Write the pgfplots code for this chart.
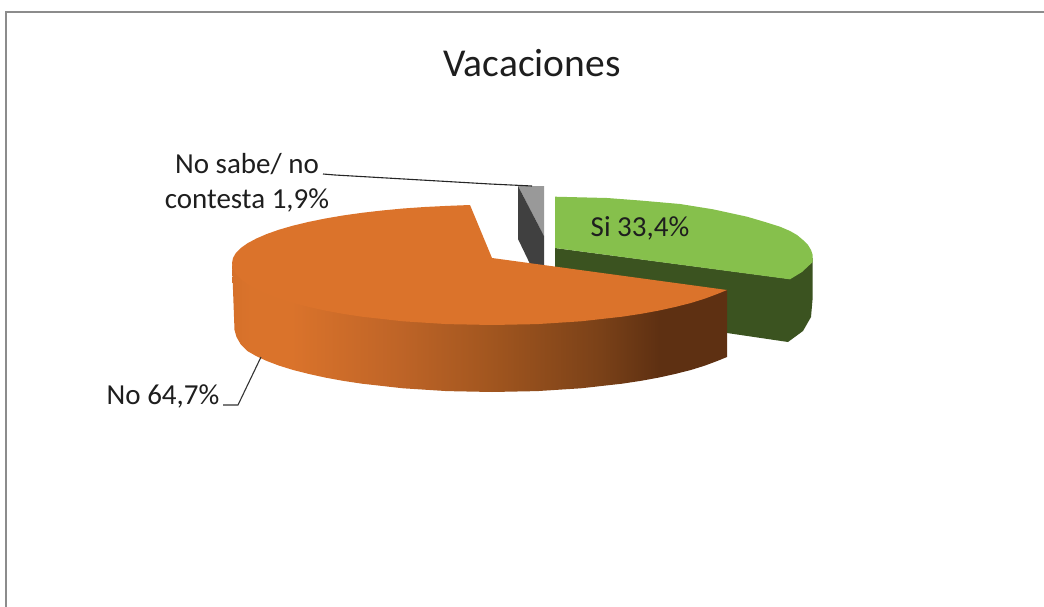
\documentclass[border=0pt]{standalone}
\usepackage{fontspec}
\setmainfont{Carlito}
\usepackage{pgfplots}
\pgfplotsset{compat=1.18}
\definecolor{oa}{HTML}{D5702A}
\definecolor{ob}{HTML}{DA732B}
\definecolor{oc}{HTML}{BE6427}
\definecolor{od}{HTML}{A2561F}
\definecolor{oe}{HTML}{7A4118}
\definecolor{of}{HTML}{5E3012}
\definecolor{otop}{HTML}{DB732B}
\definecolor{gtop}{HTML}{86C04C}
\definecolor{gside}{HTML}{3B5320}
\definecolor{txt}{HTML}{1E1E1E}
\pgfdeclarehorizontalshading{orangeside}{100bp}{color(0bp)=(oa); color(25bp)=(oa); color(27bp)=(ob); color(31bp)=(ob); color(42bp)=(oc); color(51bp)=(od); color(62.2bp)=(oe); color(68.2bp)=(of); color(75bp)=(of); color(100bp)=(of)}
\begin{document}
\begin{tikzpicture}
\path[use as bounding box] (0,0) rectangle (1044pt,607pt);
\begin{axis}[hide axis, scale only axis, width=1044pt, height=607pt, at={(0,0)}, anchor=south west,
  xmin=0, xmax=1044, ymin=0, ymax=607, y dir=reverse, clip=true]
% frame
\addplot[draw=black!45, line width=1.3pt] coordinates {(6,607) (6,12) (1044,12)};
% grey slice
\addplot[fill=black!40, draw=none] coordinates {(518,186) (544,186) (544,236)} -- cycle;
\addplot[fill=black!75, draw=none] coordinates {(518,186) (544,236) (544,268) (531,266) (518,239)} -- cycle;
% green slice
\addplot[fill=gside, draw=none] coordinates {(555,248) (790,279) (812.5,258) (812.5,300) (811,317) (803,331) (788,342) (727,333) (600,320) (555,300)} -- cycle;
\addplot[fill=gtop, draw=none] coordinates {(555,196.7) (607,198) (640,200.5) (680,204) (713,209.3) (747,216.7) (765,222) (780,226.7) (790,231) (797,235) (803,240) (808,245) (811,250) (812.7,255) (812.7,262) (802,272) (790,279.3) (555,248)} -- cycle;
% orange slice side
\addplot[shade, shading=orangeside, draw=none] coordinates {(232,263) (233,266.4) (235.9,271.8) (240.8,277) (247.7,282.2) (256.4,287.2) (266.8,292) (279,296.6) (292.8,300.9) (308.2,304.8) (324.9,308.5) (342.8,311.8) (362,314.7) (403.1,319.3) (446.8,322.1) (492,323) (537.2,322.1) (580.9,319.3) (622,314.7) (641.2,311.8) (659.1,308.5) (675.8,304.8) (691.2,300.9) (704.9,296.6) (717.2,293) (727,290)
 (727,357) (717.2,361) (704.9,365.6) (691.2,369.9) (675.8,373.8) (659.1,377.5) (641.2,380.8) (622,383.7) (580.9,388.3) (537.2,391.1) (492,392) (446.8,391.1) (403.1,388.3) (362,383.7) (342.8,380.8) (324.9,377.5) (308.2,373.8) (292.8,369.9) (279,365.6) (266.8,361) (256.4,356.2) (247.7,351.2) (240.8,344.5) (236.5,337) (234.5,330)} -- cycle;
% orange slice top
\addplot[fill=otop, draw=none] coordinates {(492,258) (470,205) (446.8,205.9) (424.7,207) (403,208.5) (382,210.5) (362,212.8) (342.8,215.5) (324.8,218.6) (308.2,222) (292.8,225.7) (279,229.7) (266.8,234) (256.4,238.5) (247.6,243.2) (240.8,248) (235.9,252.9) (233,258) (232,263) (233,268.4) (235.9,273.8) (240.8,279) (247.7,284.2) (256.4,289.2) (266.8,294) (279,298.6) (292.8,302.9) (308.2,306.8) (324.9,310.5) (342.8,313.8) (362,316.7) (403.1,321.3) (446.8,324.1) (492,325) (537.2,324.1) (580.9,321.3) (622,316.7) (641.2,313.8) (659.1,310.5) (675.8,306.8) (691.2,302.9) (704.9,298.6) (717.2,294) (727,290)} -- cycle;
% leaders
\addplot[draw=black!85, line width=1.1pt] coordinates {(323,174) (335,175) (490,184) (532,186)};
\addplot[draw=black!80, line width=1.1pt] coordinates {(223,405) (238,405) (261,357)};
% texts
\node[text=txt, font=\fontsize{39.5}{42}\selectfont] at (axis cs:532,63) {Vacaciones};
\node[text=txt, font=\fontsize{29}{35}\selectfont, align=center] at (axis cs:247,183) {No sabe/ no\\contesta 1,9\%};
\node[text=txt, font=\fontsize{29}{32}\selectfont] at (axis cs:640,228) {Si 33,4\%};
\node[text=txt, font=\fontsize{29}{32}\selectfont] at (axis cs:163,396) {No 64,7\%};
\end{axis}
\end{tikzpicture}
\end{document}
